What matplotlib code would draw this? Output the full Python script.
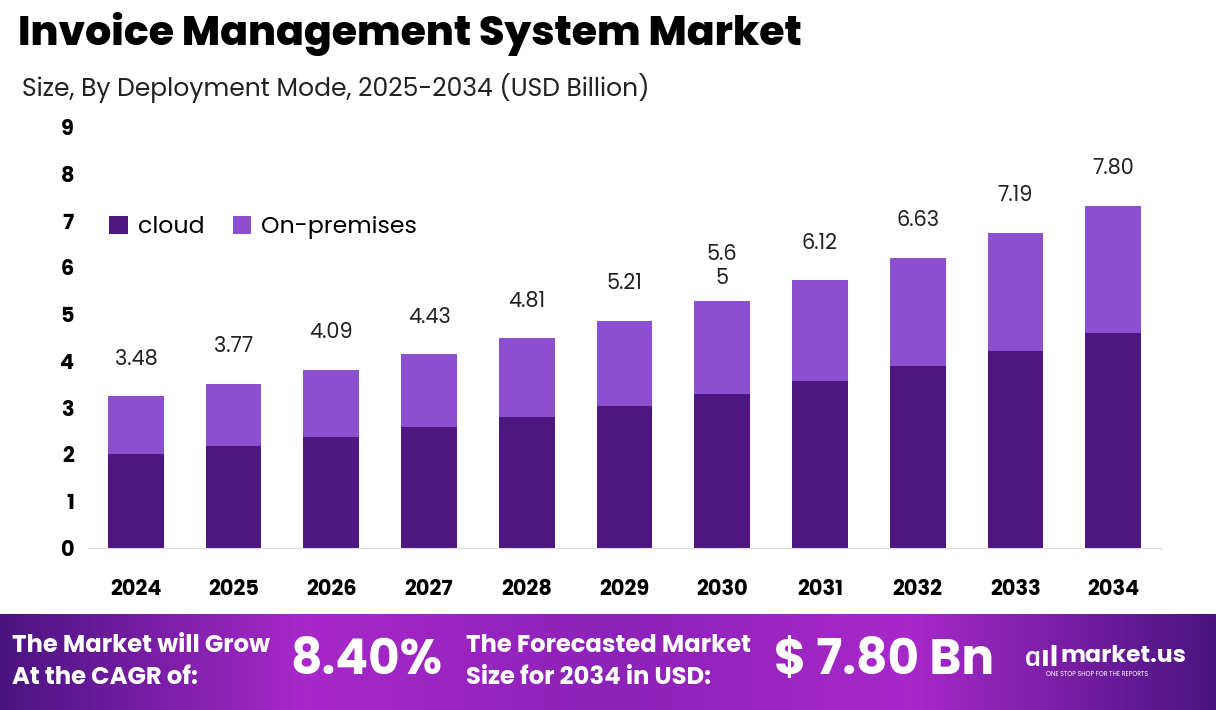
import numpy as np
import matplotlib.pyplot as plt
from matplotlib.colors import LinearSegmentedColormap

years = ['2024', '2025', '2026', '2027', '2028', '2029', '2030', '2031', '2032', '2033', '2034']
cloud = [2.01, 2.19, 2.38, 2.59, 2.81, 3.04, 3.30, 3.58, 3.90, 4.22, 4.59]
on_prem = [1.23, 1.32, 1.43, 1.55, 1.67, 1.82, 1.97, 2.14, 2.31, 2.51, 2.72]
labels = ['3.48', '3.77', '4.09', '4.43', '4.81', '5.21', '5.6\n5', '6.12', '6.63', '7.19', '7.80']

c_cloud = '#4D1680'
c_prem = '#8C4FCF'

plt.rcParams['font.family'] = ['Poppins', 'Lato', 'DejaVu Sans']

fig = plt.figure(figsize=(12.16, 7.10), dpi=100)
W, H = 1216, 710

def fx(x): return x / W
def fy(y): return 1 - y / H

# title and subtitle
fig.text(fx(18), fy(34), 'Invoice Management System Market', fontsize=29.5, fontweight='heavy', va='center')
fig.text(fx(22), fy(88), 'Size, By Deployment Mode, 2025-2034 (USD Billion)', fontsize=18, va='center', color='#222222')

ax = fig.add_axes([fx(88), fy(548), fx(1162 - 88), (548 - 127) / H])
x = np.arange(len(years))
ax.bar(x, cloud, width=0.57, color=c_cloud, label='cloud')
ax.bar(x, on_prem, width=0.57, bottom=cloud, color=c_prem, label='On-premises')
tot = np.array(cloud) + np.array(on_prem)
for i, t in enumerate(tot):
    ax.text(i, t + 0.55 if i != 6 else t + 0.25, labels[i], ha='center', va='bottom',
            fontsize=15, color='#222222', linespacing=1.1)
ax.set_ylim(0, 9)
ax.set_xlim(-0.49, len(years) - 0.5)
ax.set_yticks(range(10))
ax.set_yticklabels([str(v) for v in range(10)], fontsize=15, fontweight='bold')
ax.set_xticks(x)
ax.set_xticklabels(years, fontsize=15, fontweight='bold')
ax.tick_params(length=0, pad=10)
ax.tick_params(axis='x', pad=22)
for s in ['top', 'right', 'left']:
    ax.spines[s].set_visible(False)
ax.spines['bottom'].set_color('#dddddd')
ax.legend(loc='upper left', bbox_to_anchor=(0.0, 0.84), ncol=2, frameon=False, fontsize=17,
          handlelength=0.8, handleheight=0.8, handletextpad=0.4, columnspacing=1.2)

# bottom banner
bax = fig.add_axes([0, 0, 1, (710 - 614) / H])
cmap = LinearSegmentedColormap.from_list('b', ['#4A1480', '#A828CA', '#8C22B8', '#A828CA', '#4A1480'])
grad = np.linspace(0, 1, 512)[None, :]
bax.imshow(grad, aspect='auto', cmap=cmap, extent=[0, 1, 0, 1])
bax.set_axis_off()
ws = dict(color='white', fontweight='bold', va='center')
fig.text(fx(12), fy(647), 'The Market will Grow', fontsize=17.5, **ws)
fig.text(fx(12), fy(678), 'At the CAGR of:', fontsize=17.5, **ws)
fig.text(fx(290), fy(662), '8.40%', fontsize=35, **ws)
fig.text(fx(466), fy(647), 'The Forecasted Market', fontsize=17.5, **ws)
fig.text(fx(466), fy(678), 'Size for 2034 in USD:', fontsize=17.5, **ws)
fig.text(fx(774), fy(662), '$ 7.80 Bn', fontsize=35, **ws)
fig.text(fx(1025), fy(660), 'ɑıl', fontsize=20, **ws)
fig.text(fx(1060), fy(656), 'market.us', fontsize=17, **ws)
fig.text(fx(1046), fy(674), 'ONE STOP SHOP FOR THE REPORTS', fontsize=4.5, color='white', va='center')

fig.savefig('out.png', dpi=100)
